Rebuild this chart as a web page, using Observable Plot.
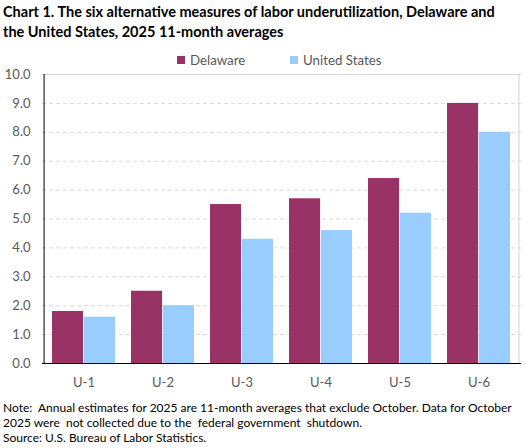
<!DOCTYPE html>
<html>
<head>
<meta charset="utf-8">
<script src="https://cdn.jsdelivr.net/npm/d3@7"></script>
<script src="https://cdn.jsdelivr.net/npm/@observablehq/plot@0.6"></script>
<style>
  body { margin: 0; background: #fff; font-family: Lato, "Open Sans", sans-serif; }
  #wrap { width: 527px; position: relative; }
  #title { font-weight: bold; font-size: 14.5px; line-height: 20px; color: #000; padding: 2px 0 0 3px; height: 50px; box-sizing: border-box; white-space: nowrap; }
  #legend { height: 16px; position: relative; font-size: 13.3px; color: #595959; }
  .item { position: absolute; top: 0; line-height: 20px; display: flex; align-items: center; }
  .sw { width: 8px; height: 8px; margin-right: 5px; display: inline-block; }
  #chart svg { display: block; }
  #note { font-size: 12px; line-height: 15px; color: #000; padding: 7px 0 0 3px; white-space: nowrap; }
</style>
</head>
<body>
<div id="wrap">
  <div id="title"></div>
  <div id="legend"></div>
  <div id="chart"></div>
  <div id="note"></div>
</div>
<script>
const titleLines = ["Chart 1. The six alternative measures of labor underutilization, Delaware and", "the United States, 2025 11-month averages"];
const categories = ["U-1", "U-2", "U-3", "U-4", "U-5", "U-6"];
const seriesNames = ["Delaware", "United States"];
const seriesColors = ["#993366", "#99CCFF"];
const delaware = [1.8, 2.5, 5.5, 5.7, 6.4, 9.0];
const unitedStates = [1.6, 2.0, 4.3, 4.6, 5.2, 8.0];
const yTicks = [0, 1, 2, 3, 4, 5, 6, 7, 8, 9, 10];
const noteLines = [
  "Note:\u00a0 Annual estimates for 2025 are 11-month averages that exclude October. Data for October",
  "2025 were\u00a0 not collected due to the\u00a0 federal government\u00a0 shutdown.",
  "Source: U.S. Bureau of Labor Statistics."
];

document.getElementById("title").innerHTML = titleLines.join("<br>");
document.getElementById("note").innerHTML = noteLines.join("<br>");

const legend = document.getElementById("legend");
const legendLeft = [177, 290];
seriesNames.forEach((name, i) => {
  const it = document.createElement("div");
  it.className = "item";
  it.style.left = legendLeft[i] + "px";
  it.innerHTML = `<span class="sw" style="background:${seriesColors[i]}"></span><span>${name}</span>`;
  legend.appendChild(it);
});

const rows = [];
categories.forEach((c, i) => {
  rows.push({cat: c, series: seriesNames[0], value: delaware[i]});
  rows.push({cat: c, series: seriesNames[1], value: unitedStates[i]});
});

const W = 527, mL = 42, mR = 6;
const step = (W - mL - mR) / categories.length;
const half = step * 0.8 / 2;

const chart = Plot.plot({
  width: W,
  height: 327,
  marginLeft: mL,
  marginRight: mR,
  marginTop: 8,
  marginBottom: 30,
  style: {fontFamily: "Lato, sans-serif", fontSize: "13px", color: "#595959", background: "#fff", overflow: "visible"},
  x: {domain: categories, paddingInner: 0.2, paddingOuter: 0.1, label: null},
  y: {domain: [0, 10], ticks: yTicks, label: null},
  color: {domain: seriesNames, range: seriesColors},
  marks: [
    Plot.gridY(yTicks.slice(1, -1), {stroke: "#d9d9d9", strokeOpacity: 1, strokeDasharray: "4,3"}),
    Plot.ruleY([10], {stroke: "#d4d4d4"}),
    Plot.ruleX([categories[categories.length - 1]], {dx: step / 2, y1: 0, y2: 10, stroke: "#d4d4d4"}),
    Plot.barY(rows.filter(d => d.series === seriesNames[0]), {x: "cat", y: "value", fill: "series", insetRight: half}),
    Plot.barY(rows.filter(d => d.series === seriesNames[1]), {x: "cat", y: "value", fill: "series", insetLeft: half}),
    Plot.axisY({ticks: yTicks, tickFormat: d => d.toFixed(1), tickSize: 0, tickPadding: 12, fontSize: 13}),
    Plot.axisX({tickSize: 0, tickPadding: 14, fontSize: 13}),
    Plot.ruleX([categories[0]], {dx: -step / 2, y1: 0, y2: 10, stroke: "#000"}),
    Plot.ruleY([0], {stroke: "#000"})
  ]
});
document.getElementById("chart").appendChild(chart);
</script>
</body>
</html>
